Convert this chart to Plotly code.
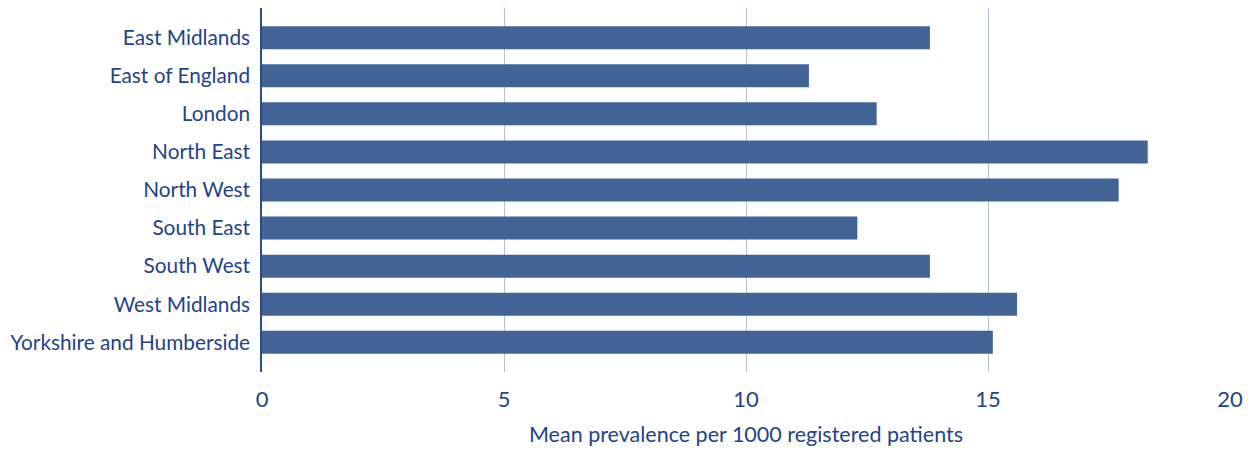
import plotly.graph_objects as go

regions = ["East Midlands", "East of England", "London", "North East", "North West",
           "South East", "South West", "West Midlands", "Yorkshire and Humberside"]
prevalence = [13.8, 11.3, 12.7, 18.3, 17.7, 12.3, 13.8, 15.6, 15.1]
x_ticks = [0, 5, 10, 15, 20]
x_title = "Mean prevalence per 1000 registered patients"

TEXT = "#23438a"
FONT = "Lato"

fig = go.Figure(go.Bar(
    x=prevalence, y=regions, orientation="h",
    marker=dict(color="#426395", line=dict(width=0)),
    width=0.605,
))

# page body has an 8px default margin, so the figure is sized to compensate
fig.update_layout(
    width=1243, height=443,
    margin=dict(l=253.5, r=20.5, t=0, b=79, autoexpand=False),
    paper_bgcolor="white", plot_bgcolor="white",
    font=dict(family=FONT, color=TEXT, size=21),
    showlegend=False,
    xaxis=dict(
        range=[0, 20], tickvals=x_ticks, ticktext=[str(v) for v in x_ticks],
        showgrid=True, gridcolor="#b4c0d8", gridwidth=1,
        zeroline=False, showline=False, ticks="",
        ticklabelstandoff=12,
        tickfont=dict(size=22, family=FONT, color=TEXT),
        title=dict(text=x_title, font=dict(size=21.5, family=FONT, color=TEXT), standoff=15),
    ),
    yaxis=dict(
        categoryorder="array", categoryarray=regions,
        range=[8.78, -0.78],
        showline=True, linecolor="#2c4a86", linewidth=1.5,
        showgrid=False, ticks="", ticklen=0,
        ticklabelstandoff=6,
        tickfont=dict(size=20.8, family=FONT, color=TEXT),
    ),
)

fig.write_html("out.html")
